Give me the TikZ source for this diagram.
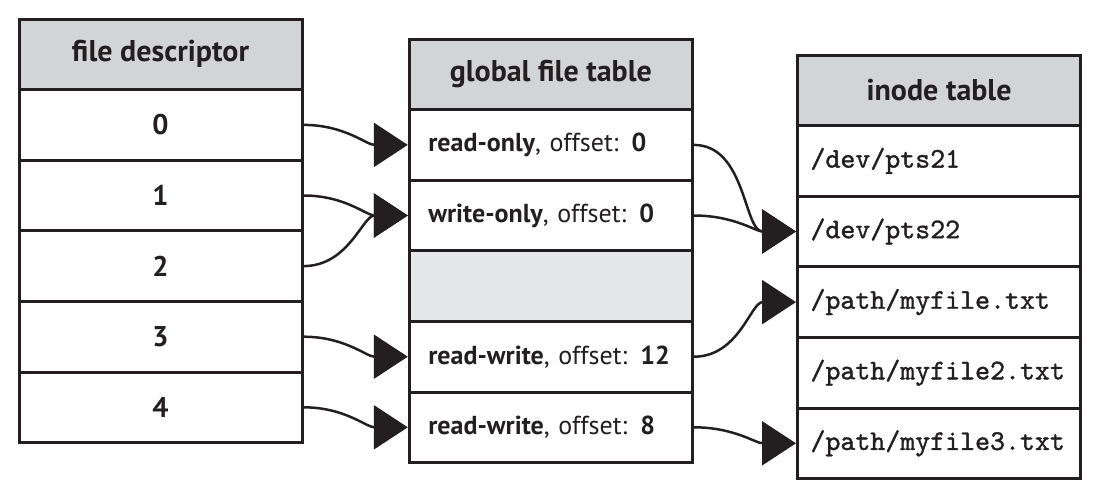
\documentclass[tikz,border=0pt]{standalone}
\usepackage{fontspec}
\setmainfont{PT Sans}
\newfontfamily\monob{lmmono10-regular.otf}[FakeBold=1.2]
\usetikzlibrary{arrows.meta}
\definecolor{ink}{HTML}{231F20}
\definecolor{hdr}{HTML}{D3D4D6}
\definecolor{emptyrow}{HTML}{E6E7E8}
\begin{document}
\begin{tikzpicture}[x=1pt,y=-1pt,
  cell/.style={draw=ink, line width=3pt, minimum width=283pt, minimum height=70.6pt,
    inner sep=0pt, fill=white, text=ink},
  hcell/.style={cell, fill=hdr, font=\fontsize{30}{34}\selectfont\bfseries},
  dcell/.style={cell, font=\fontsize{28.5}{32}\selectfont\bfseries},
  gcell/.style={cell, text width=245pt, align=left, font=\fontsize{26}{30}\selectfont},
  icell/.style={cell, text width=257pt, align=left, font=\fontsize{28.5}{32}\monob},
  conn/.style={draw=ink, line width=2.5pt, -{Triangle[length=34pt,width=44pt]}}]
\useasboundingbox (0,0) rectangle (1094,496);

% left table: file descriptor
\node[hcell] (fdh) at (160.5,54.3) {file descriptor};
\node[dcell] (fd0) at (160.5,124.9) {0};
\node[dcell] (fd1) at (160.5,195.5) {1};
\node[dcell] (fd2) at (160.5,266.1) {2};
\node[dcell] (fd3) at (160.5,336.7) {3};
\node[dcell] (fd4) at (160.5,407.3) {4};

% middle table: global file table
\node[hcell] (gh) at (550.8,74.3) {global file table};
\node[gcell] (g1) at (550.8,144.9) {\textbf{read-only}, offset: \textbf{0}};
\node[gcell] (g2) at (550.8,215.5) {\textbf{write-only}, offset: \textbf{0}};
\node[cell, fill=emptyrow] (g3) at (550.8,286.1) {};
\node[gcell] (g4) at (550.8,356.7) {\textbf{read-write}, offset: \textbf{12}};
\node[gcell] (g5) at (550.8,427.3) {\textbf{read-write}, offset: \textbf{8}};

% right table: inode table
\node[hcell] (ih) at (939,90.3) {inode table};
\node[icell] (i1) at (939,160.9) {/dev/pts21};
\node[icell] (i2) at (939,231.5) {/dev/pts22};
\node[icell] (i3) at (939,302.1) {/path/myfile.txt};
\node[icell] (i4) at (939,372.7) {/path/myfile2.txt};
\node[icell] (i5) at (939,443.3) {/path/myfile3.txt};

% connectors
\draw[conn] (fd0.east) to[out=0,in=180] (g1.west);
\draw[conn] (fd1.east) to[out=0,in=180] (g2.west);
\draw[conn] (fd2.east) to[out=0,in=180] (g2.west);
\draw[conn] (fd3.east) to[out=0,in=180] (g4.west);
\draw[conn] (fd4.east) to[out=0,in=180] (g5.west);
\draw[conn] (g1.east) to[out=0,in=180] (i2.west);
\draw[conn] (g2.east) to[out=0,in=180] (i2.west);
\draw[conn] (g4.east) to[out=0,in=180] (i3.west);
\draw[conn] (g5.east) to[out=0,in=180] (i5.west);
\end{tikzpicture}
\end{document}
